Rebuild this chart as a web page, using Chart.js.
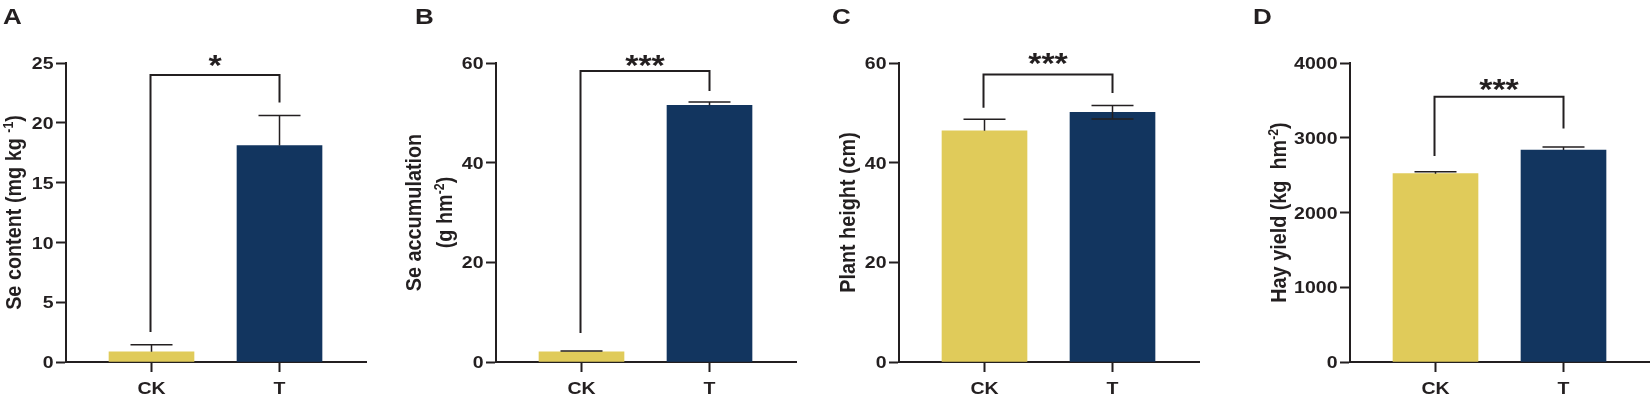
<!DOCTYPE html>
<html>
<head>
<meta charset="utf-8">
<title>Se content, accumulation, plant height and hay yield</title>
<script src="https://cdn.jsdelivr.net/npm/chart.js@4.4.0/dist/chart.umd.min.js"></script>
<style>
    html, body { margin: 0; padding: 0; background: #fff; }
    #wrap { position: relative; width: 1650px; height: 395px; overflow: hidden; }
    #wrap canvas { position: absolute; left: 0; top: 0; }
</style>
</head>
<body>
<div id="wrap">
    <canvas id="chartA" width="1650" height="395"></canvas>
    <canvas id="chartB" width="1650" height="395"></canvas>
    <canvas id="chartC" width="1650" height="395"></canvas>
    <canvas id="chartD" width="1650" height="395"></canvas>
</div>
<script>
// ---- data ----
const categories = ['CK', 'T'];

const seContent = [0.85, 18.1];
const seContentErr = [0.6, 2.5];

const seAccumulation = [2.05, 51.5];
const seAccumulationErr = [0.15, 0.65];

const plantHeight = [46.4, 50.1];
const plantHeightErr = [2.3, 1.35];

const hayYield = [2520, 2835];
const hayYieldErr = [25, 40];

const ticksA = [0, 5, 10, 15, 20, 25];
const ticksB = [0, 20, 40, 60];
const ticksC = [0, 20, 40, 60];
const ticksD = [0, 1000, 2000, 3000, 4000];

const sigLabels = ['*', '***', '***', '***'];
// bracket: [top, left leg end, right leg end] in data units
const bracketA = [24, 2.5, 21.7];
const bracketB = [58.4, 5.8, 54.4];
const bracketC = [57.7, 51, 54];
const bracketD = [3550, 2755, 3125];

// ---- styles ----
const INK = '#231F20';
const barColors = ['#E0CB5A', '#12355F'];
const FONT = '"Liberation Sans", Arial, Helvetica, sans-serif';
const SQUASH = 0.88;      // the original figure is slightly squashed vertically
const Y_AXIS_W = 70;
const PLOT_TOP = 63;
const PLOT_BOTTOM = 362;

const panels = [
    {
        id: 'chartA', letter: 'A', letterX: 3, axisX: 66, values: seContent, errors: seContentErr,
        lowerWhisker: [false, false], ticks: ticksA, max: 25, bracket: bracketA, sig: sigLabels[0], starGap: 8.5,
        titleX: [20.7], title: [[{ t: 'Se content (mg kg ' }, { t: '-1', sup: true }, { t: ')' }]]
    },
    {
        id: 'chartB', letter: 'B', letterX: 415, axisX: 496, values: seAccumulation, errors: seAccumulationErr,
        lowerWhisker: [false, false], ticks: ticksB, max: 60, bracket: bracketB, sig: sigLabels[1], starGap: 4.5,
        titleX: [420.7, 451.5], title: [[{ t: 'Se accumulation' }], [{ t: '(g hm' }, { t: '-2', sup: true }, { t: ')' }]]
    },
    {
        id: 'chartC', letter: 'C', letterX: 832, axisX: 899, values: plantHeight, errors: plantHeightErr,
        lowerWhisker: [false, true], ticks: ticksC, max: 60, bracket: bracketC, sig: sigLabels[2], starGap: 10,
        titleX: [855], title: [[{ t: 'Plant height (cm)' }]]
    },
    {
        id: 'chartD', letter: 'D', letterX: 1253, axisX: 1350, values: hayYield, errors: hayYieldErr,
        lowerWhisker: [false, false], ticks: ticksD, max: 4000, bracket: bracketD, sig: sigLabels[3], starGap: 6.5,
        titleX: [1285.7], title: [[{ t: 'Hay yield (kg  hm' }, { t: '-2', sup: true }, { t: ')' }]]
    }
];

// text with the figure's vertical squash
function squashedText(ctx, text, x, y, font, align) {
    ctx.save();
    ctx.translate(x, y);
    ctx.scale(1, SQUASH);
    ctx.font = font;
    ctx.textAlign = align;
    ctx.textBaseline = 'alphabetic';
    ctx.fillText(text, 0, 0);
    ctx.restore();
}

// tick labels, error bars, significance bracket, y title and panel letter
const annotations = {
    id: 'annotations',
    afterDraw(chart, args, opts) {
        const p = opts.panel;
        const { ctx, chartArea } = chart;
        const xs = chart.scales.x;
        const ys = chart.scales.y;
        ctx.save();
        ctx.strokeStyle = INK;
        ctx.fillStyle = INK;

        // tick labels
        const tickFont = `bold 19.5px ${FONT}`;
        const capHalf = 0.716 * 19.5 * SQUASH / 2;
        ys.ticks.forEach(t => {
            squashedText(ctx, String(t.value), p.axisX - 12.5, ys.getPixelForValue(t.value) + capHalf, tickFont, 'right');
        });
        xs.ticks.forEach(t => {
            squashedText(ctx, categories[t.value - 1], xs.getPixelForValue(t.value), 393.5, tickFont, 'center');
        });

        // error bars
        ctx.lineWidth = 1.5;
        p.values.forEach((v, i) => {
            const x = xs.getPixelForValue(i + 1);
            const yv = ys.getPixelForValue(v);
            const yt = ys.getPixelForValue(v + p.errors[i]);
            ctx.beginPath();
            ctx.moveTo(x, yv);
            ctx.lineTo(x, yt);
            ctx.moveTo(x - 21, yt);
            ctx.lineTo(x + 21, yt);
            if (p.lowerWhisker[i]) {
                const yb = ys.getPixelForValue(v - p.errors[i]);
                ctx.moveTo(x, yv);
                ctx.lineTo(x, yb);
                ctx.moveTo(x - 21, yb);
                ctx.lineTo(x + 21, yb);
            }
            ctx.stroke();
        });

        // bracket
        const x1 = xs.getPixelForValue(1) - 1;
        const x2 = xs.getPixelForValue(2);
        const top = ys.getPixelForValue(p.bracket[0]);
        ctx.lineWidth = 2;
        ctx.beginPath();
        ctx.moveTo(x1, ys.getPixelForValue(p.bracket[1]));
        ctx.lineTo(x1, top);
        ctx.lineTo(x2, top);
        ctx.lineTo(x2, ys.getPixelForValue(p.bracket[2]));
        ctx.stroke();

        const starFont = `bold 34px ${FONT}`;
        ctx.font = starFont;
        const m = ctx.measureText(p.sig);
        const starBottom = top - p.starGap;
        squashedText(ctx, p.sig, (x1 + x2) / 2, starBottom - m.actualBoundingBoxDescent * SQUASH, starFont, 'center');

        // y axis title (rotated, with superscripts)
        const cy = (chartArea.top + chartArea.bottom) / 2;
        const fontOf = s => s.sup ? `bold 14px ${FONT}` : `bold 22.5px ${FONT}`;
        p.title.forEach((segs, li) => {
            ctx.save();
            ctx.translate(p.titleX[li], cy);
            ctx.rotate(-Math.PI / 2);
            ctx.scale(SQUASH, 1);
            ctx.textAlign = 'left';
            ctx.textBaseline = 'alphabetic';
            let total = 0;
            segs.forEach(s => { ctx.font = fontOf(s); total += ctx.measureText(s.t).width; });
            let x = -total / 2;
            segs.forEach(s => {
                ctx.font = fontOf(s);
                ctx.fillText(s.t, x, s.sup ? -8 : 0);
                x += ctx.measureText(s.t).width;
            });
            ctx.restore();
        });

        // panel letter
        squashedText(ctx, p.letter, p.letterX, 24, `bold 26px ${FONT}`, 'left');

        ctx.restore();
    }
};

function makeChart(p) {
    return new Chart(document.getElementById(p.id), {
        type: 'bar',
        data: {
            datasets: [{
                data: p.values.map((v, i) => ({ x: i + 1, y: v })),
                backgroundColor: barColors,
                borderWidth: 0,
                barThickness: 85
            }]
        },
        options: {
            responsive: false,
            animation: false,
            events: [],
            layout: {
                padding: { left: p.axisX - Y_AXIS_W, right: Math.max(0, 1650 - (p.axisX + 300)), top: PLOT_TOP, bottom: 0 }
            },
            plugins: {
                legend: { display: false },
                tooltip: { enabled: false },
                annotations: { panel: p }
            },
            scales: {
                x: {
                    type: 'linear',
                    offset: false,
                    min: 0.332,
                    max: 0.332 + 300 / 128,
                    afterBuildTicks: s => { s.ticks = categories.map((c, i) => ({ value: i + 1 })); },
                    afterFit: s => { s.height = 395 - PLOT_BOTTOM; },
                    ticks: { display: false },
                    grid: { offset: false, drawOnChartArea: false, tickLength: 10, tickWidth: 2, color: INK },
                    border: { width: 2, color: INK }
                },
                y: {
                    min: 0,
                    max: p.max,
                    afterBuildTicks: s => { s.ticks = p.ticks.map(v => ({ value: v })); },
                    afterFit: s => { s.width = Y_AXIS_W; },
                    ticks: { display: false },
                    grid: { drawOnChartArea: false, tickLength: 10, tickWidth: 2, color: INK },
                    border: { width: 2, color: INK }
                }
            }
        },
        plugins: [annotations]
    });
}

panels.forEach(makeChart);
</script>
</body>
</html>
